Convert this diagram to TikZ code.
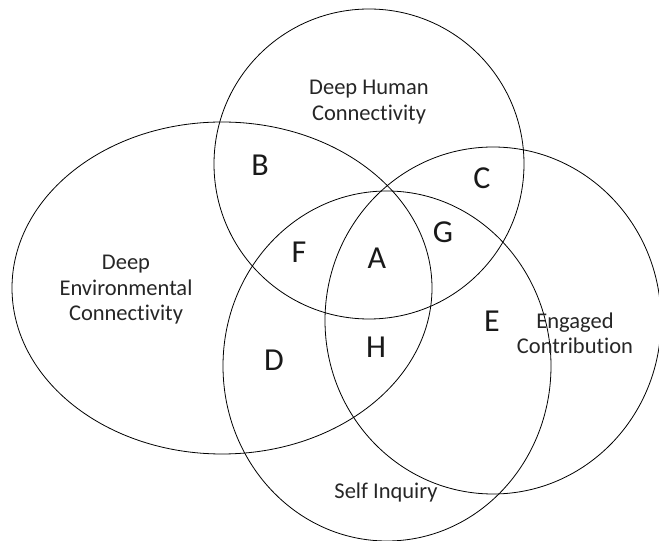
\documentclass[tikz,border=0pt]{standalone}
\usepackage{fontspec}
\setmainfont{Carlito}[Ligatures=NoCommon]
\usepackage{tikz}

\tikzset{
	setname/.style = {align=center, inner sep=0pt, anchor=north, text=black!85,
		font=\fontsize{22.5}{25.5}\selectfont},
	region/.style = {inner sep=0pt, text=black!90, font=\fontsize{32}{32}\selectfont}
}

\begin{document}
\begin{tikzpicture}[x=1pt, y=1pt, line width=0.8pt]
\useasboundingbox (0,0) rectangle (659,541);

% centres of the four sets
\coordinate (human) at (369,377);
\coordinate (env) at (222,253);
\coordinate (engaged) at (493,220.5);
\coordinate (self) at (387,175);

\draw (human) circle [radius=155];
\draw (env) ellipse [x radius=210, y radius=166];
\draw (engaged) ellipse [x radius=168, y radius=173.5];
\draw (self) ellipse [x radius=164, y radius=175];

% set names
\node[setname] (humanname) at (369,461) {Deep Human\\Connectivity};
\node[setname] (envname) at (126,286) {Deep\\Environmental\\Connectivity};
\node[setname] (engagedname) at (575,229) {Engaged\\Contribution};
\node[setname] (selfname) at (386,59) {Self Inquiry};

% overlap regions
\node[region] (a) at (377,283) {A};
\node[region] (b) at (260,376) {B};
\node[region] (c) at (482,363) {C};
\node[region] (d) at (274,181) {D};
\node[region] (e) at (492,220) {E};
\node[region] (f) at (299,289) {F};
\node[region] (g) at (443,309) {G};
\node[region] (h) at (376,194) {H};
\end{tikzpicture}
\end{document}
